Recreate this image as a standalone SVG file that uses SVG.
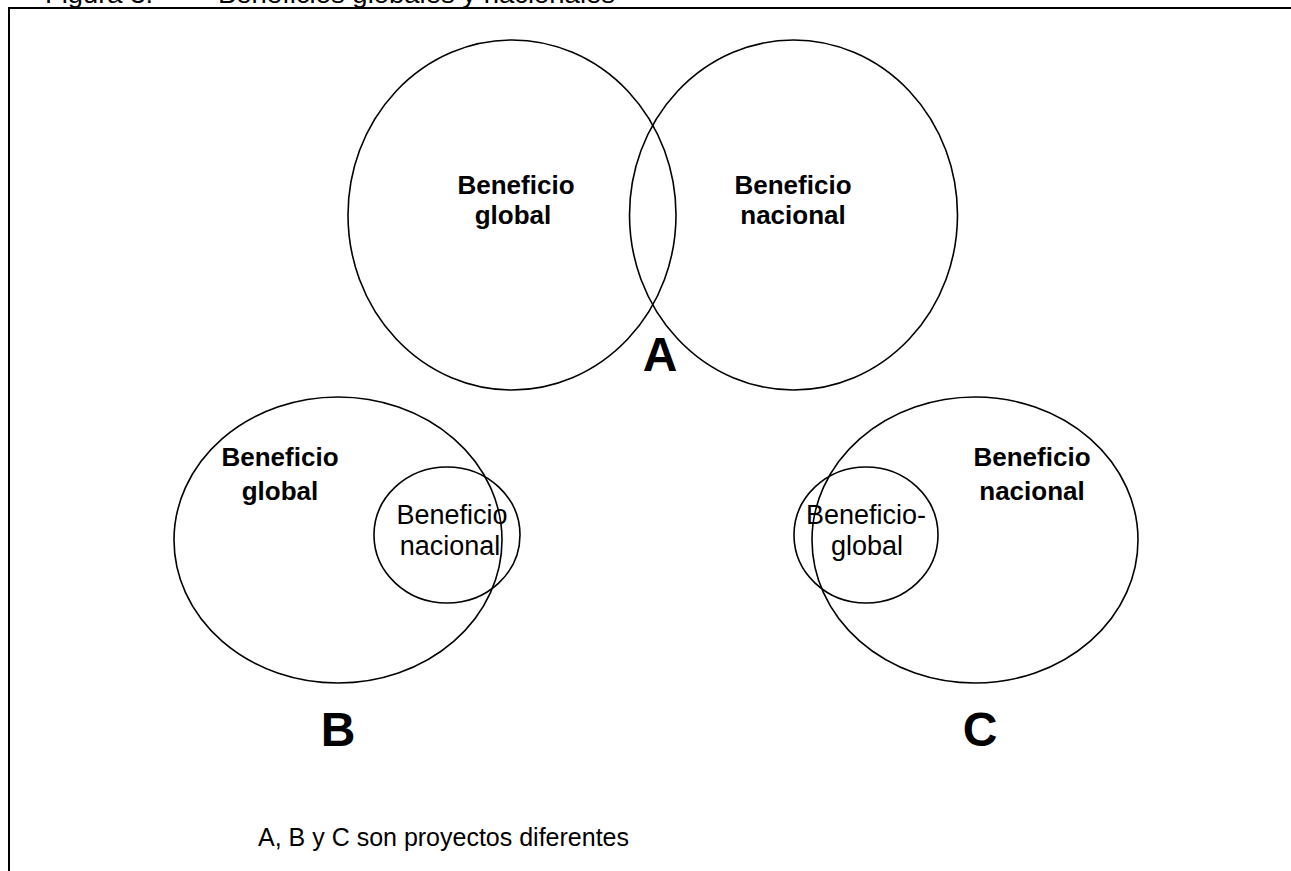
<svg xmlns="http://www.w3.org/2000/svg" width="1291" height="871" viewBox="0 0 1291 871">
  <style>
    .ring { fill: none; stroke: #000; stroke-width: 1.6; }
    .frame { fill: none; stroke: #000; stroke-width: 2; }
    text { font-family: "Liberation Sans", Arial, sans-serif; fill: #000; }
    .b { font-weight: bold; font-size: 26px; text-anchor: middle; }
    .r { font-size: 27px; text-anchor: middle; }
    .big { font-weight: bold; font-size: 48px; text-anchor: middle; }
    .title { font-size: 26px; }
    .note { font-size: 25px; }
  </style>
  <rect width="1291" height="871" fill="#fff"/>

  <!-- caption, cut off at the top edge -->
  <g id="caption">
    <text class="title" x="45" y="3" textLength="108" lengthAdjust="spacingAndGlyphs">Figura 3.</text>
    <text class="title" x="218" y="3" textLength="397" lengthAdjust="spacingAndGlyphs">Beneficios globales y nacionales</text>
  </g>

  <!-- frame (top and left edges) -->
  <path class="frame" d="M 9 871 V 8 H 1291"/>

  <!-- Case A: partial overlap -->
  <g id="caseA">
    <g id="A-global">
      <ellipse class="ring" cx="512" cy="215" rx="164" ry="175"/>
      <text class="b" x="516" y="194">Beneficio</text>
      <text class="b" x="513" y="224">global</text>
    </g>
    <g id="A-nacional">
      <ellipse class="ring" cx="793.5" cy="215" rx="164" ry="175"/>
      <text class="b" x="793" y="194">Beneficio</text>
      <text class="b" x="793" y="224">nacional</text>
    </g>
    <text class="big" x="660" y="371">A</text>
  </g>

  <!-- Case B: national benefit mostly inside global -->
  <g id="caseB">
    <g id="B-global">
      <ellipse class="ring" cx="338" cy="540" rx="164" ry="143"/>
      <text class="b" x="280" y="466">Beneficio</text>
      <text class="b" x="280" y="500">global</text>
    </g>
    <g id="B-nacional">
      <ellipse class="ring" cx="447" cy="535" rx="73" ry="68"/>
      <text class="r" x="452" y="524">Beneficio</text>
      <text class="r" x="450" y="555">nacional</text>
    </g>
    <text class="big" x="338" y="746">B</text>
  </g>

  <!-- Case C: global benefit mostly inside national -->
  <g id="caseC">
    <g id="C-nacional">
      <ellipse class="ring" cx="975" cy="540" rx="163" ry="143"/>
      <text class="b" x="1032" y="466">Beneficio</text>
      <text class="b" x="1032" y="500">nacional</text>
    </g>
    <g id="C-global">
      <ellipse class="ring" cx="866" cy="535" rx="72" ry="68"/>
      <text class="r" x="866" y="524">Beneficio-</text>
      <text class="r" x="867" y="555">global</text>
    </g>
    <text class="big" x="980" y="746">C</text>
  </g>

  <g id="connectors"/>

  <text class="note" x="258" y="846">A, B y C son proyectos diferentes</text>
</svg>
